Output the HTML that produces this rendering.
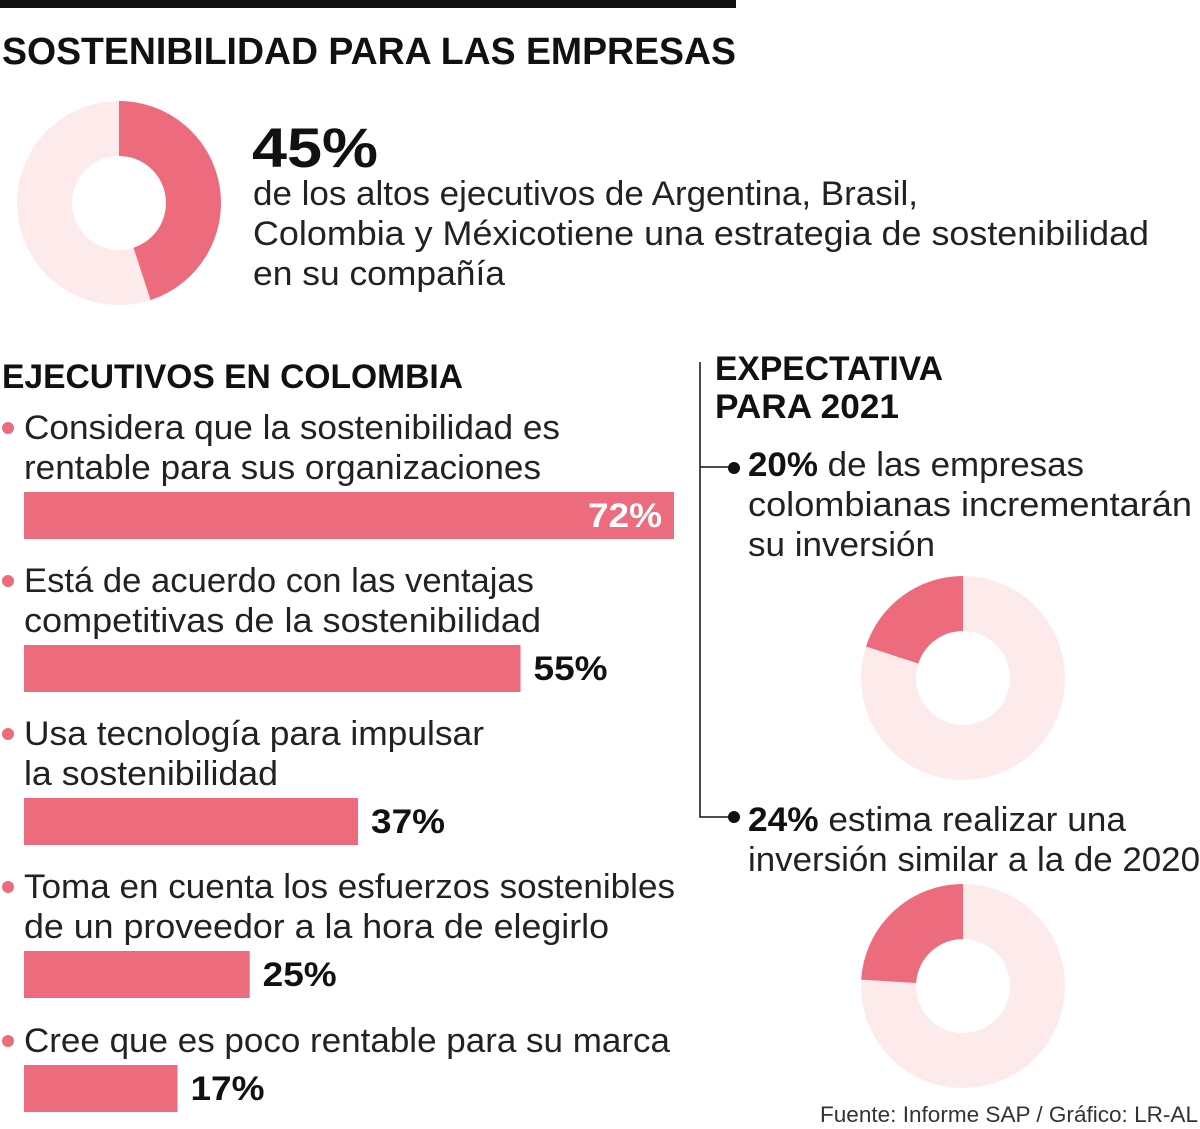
<!DOCTYPE html>
<html><head><meta charset="utf-8"><style>
html,body{margin:0;padding:0;background:#fff;}
svg{display:block;font-family:"Liberation Sans",sans-serif;}
</style></head><body>
<svg id="chart" width="1200" height="1129" viewBox="0 0 1200 1129" xmlns="http://www.w3.org/2000/svg">
<rect x="0" y="0" width="736" height="8" fill="#111"/>
<text x="2" y="64" font-size="38" font-weight="bold" fill="#111" textLength="734" lengthAdjust="spacingAndGlyphs">SOSTENIBILIDAD PARA LAS EMPRESAS</text>
<g id="donuts"></g>
<text x="252" y="167" font-size="56" font-weight="bold" fill="#111" textLength="126" lengthAdjust="spacingAndGlyphs">45%</text>
<g font-size="34" fill="#222">
<text x="253" y="205" textLength="665" lengthAdjust="spacingAndGlyphs">de los altos ejecutivos de Argentina, Brasil,</text>
<text x="253" y="245" textLength="896" lengthAdjust="spacingAndGlyphs">Colombia y Méxicotiene una estrategia de sostenibilidad</text>
<text x="253" y="285" textLength="252" lengthAdjust="spacingAndGlyphs">en su compañía</text>
</g>
<text x="2" y="388" font-size="34" font-weight="bold" fill="#111" textLength="461" lengthAdjust="spacingAndGlyphs">EJECUTIVOS EN COLOMBIA</text>
<g id="bars"></g>
<g>
<text x="715" y="380" font-size="34" font-weight="bold" fill="#111" textLength="228" lengthAdjust="spacingAndGlyphs">EXPECTATIVA</text>
<text x="715" y="418" font-size="34" font-weight="bold" fill="#111" textLength="184" lengthAdjust="spacingAndGlyphs">PARA 2021</text>
<path d="M700 362 V817 H735 M700 467 H735" stroke="#111" stroke-width="1.5" fill="none"/>
<circle cx="734" cy="468" r="6" fill="#111"/>
<circle cx="734" cy="817" r="6" fill="#111"/>
<g font-size="34" fill="#222">
<text x="748" y="476" textLength="336" lengthAdjust="spacingAndGlyphs"><tspan font-weight="bold" fill="#111">20%</tspan> de las empresas</text>
<text x="748" y="516" textLength="444" lengthAdjust="spacingAndGlyphs">colombianas incrementarán</text>
<text x="748" y="556" textLength="187" lengthAdjust="spacingAndGlyphs">su inversión</text>
<text x="748" y="831" textLength="378" lengthAdjust="spacingAndGlyphs"><tspan font-weight="bold" fill="#111">24%</tspan> estima realizar una</text>
<text x="748" y="871" textLength="452" lengthAdjust="spacingAndGlyphs">inversión similar a la de 2020</text>
</g>
</g>
<text x="1198" y="1122" text-anchor="end" font-size="22" fill="#333" textLength="378" lengthAdjust="spacingAndGlyphs">Fuente: Informe SAP / Gráfico: LR-AL</text>
</svg>
<script>
const barLabels=[["Considera que la sostenibilidad es","rentable para sus organizaciones"],["Está de acuerdo con las ventajas","competitivas de la sostenibilidad"],["Usa tecnología para impulsar","la sostenibilidad"],["Toma en cuenta los esfuerzos sostenibles","de un proveedor a la hora de elegirlo"],["Cree que es poco rentable para su marca"]];
const barValues=[72,55,37,25,17];
const donutValues=[45,20,24];
const donutDirections=[1,-1,-1];
const labelWidths=[[536,517],[510,517],[460,254],[651,585],[646]];
const NS="http://www.w3.org/2000/svg";
const PINK="#ec6b7c",LIGHT="#fdeaeb";
const x0=24,xScale=v=>v*650/72;
const barTops=[492,645,798,951,1065];
const bars=document.getElementById('bars');
function mk(t,a){const e=document.createElementNS(NS,t);for(const k in a)e.setAttribute(k,a[k]);return e;}
barValues.forEach((v,i)=>{
  const top=barTops[i];const lines=barLabels[i];
  lines.forEach((l,j)=>{
    const y=top-13-(lines.length-1-j)*40;
    const t=mk('text',{x:24,y:y,'font-size':34,fill:'#222',textLength:labelWidths[i][j],lengthAdjust:'spacingAndGlyphs'});
    
    
    t.textContent=l;bars.appendChild(t);
    if(j===0){const c=mk('circle',{cx:8,cy:y-11,r:6,fill:PINK});
      
      
      bars.appendChild(c);}
  });
  const w=xScale(v);
  const r=mk('rect',{x:x0,y:top,width:w,height:47,fill:PINK});
  
  
  bars.appendChild(r);
  const inside=i===0;
  const lt=mk('text',{x:inside?x0+w-12:x0+w+13,y:top+35,'font-size':34,'font-weight':'bold',fill:inside?'#fff':'#111','text-anchor':inside?'end':'start',textLength:74,lengthAdjust:'spacingAndGlyphs'});
  
  
  lt.textContent=v+'%';bars.appendChild(lt);
});
const centers=[[119,203],[963,678],[963,986]];
const dg=document.getElementById('donuts');
function arc(cx,cy,R,r,a0,a1){
  const p=(rad,a)=>[cx+rad*Math.sin(a),cy-rad*Math.cos(a)];
  const large=Math.abs(a1-a0)>Math.PI?1:0,sw=a1>a0?1:0;
  const [x1,y1]=p(R,a0),[x2,y2]=p(R,a1),[x3,y3]=p(r,a1),[x4,y4]=p(r,a0);
  return `M${x1} ${y1}A${R} ${R} 0 ${large} ${sw} ${x2} ${y2}L${x3} ${y3}A${r} ${r} 0 ${large} ${1-sw} ${x4} ${y4}Z`;
}
donutValues.forEach((v,i)=>{
  const [cx,cy]=centers[i];
  const bg=mk('circle',{cx:cx,cy:cy,r:74.5,fill:'none',stroke:LIGHT,'stroke-width':55});
  
  
  dg.appendChild(bg);
  const a=donutDirections[i]*v/100*2*Math.PI;
  const s=mk('path',{d:arc(cx,cy,102,47,0,a),fill:PINK});
  
  
  dg.appendChild(s);
});
</script>
</body></html>
